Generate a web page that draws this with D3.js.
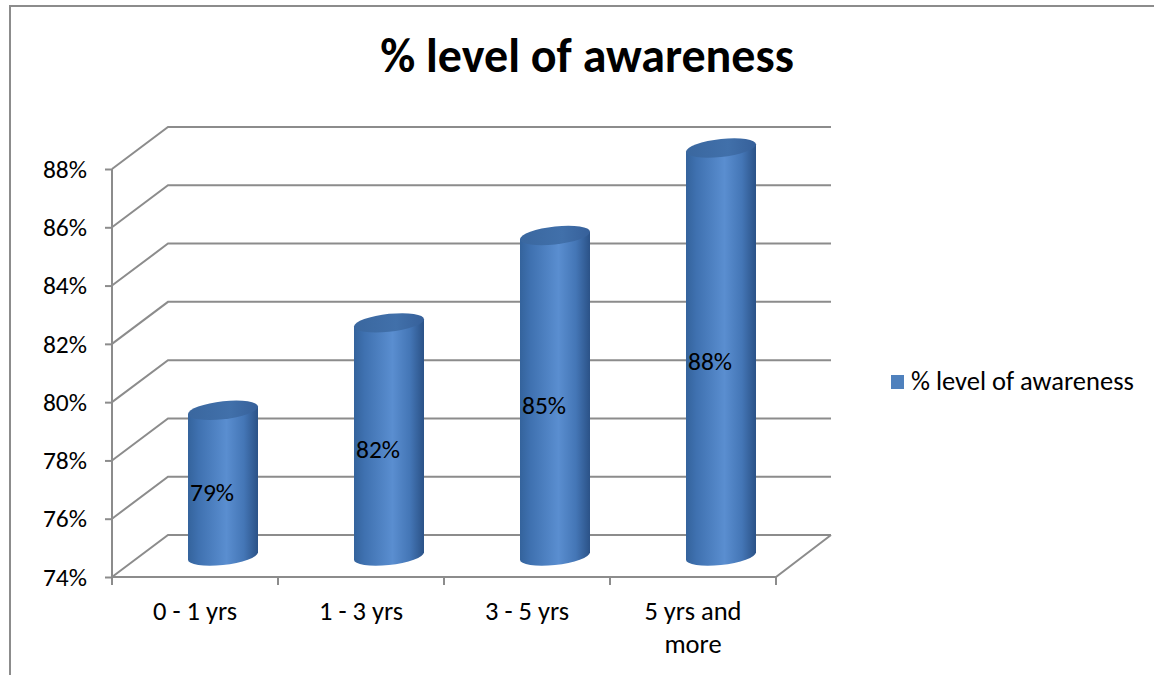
<!DOCTYPE html>
<html>
<head>
<meta charset="utf-8">
<script src="https://cdn.jsdelivr.net/npm/d3@7"></script>
<style>
  html, body { margin: 0; padding: 0; background: #fff; }
  svg { display: block; font-family: Carlito, Calibri, Lato, "Open Sans", sans-serif; }
</style>
</head>
<body>
<svg id="chart" width="1154" height="675"></svg>
<script>
// Chart data
const categories = ["0 - 1 yrs", "1 - 3 yrs", "3 - 5 yrs", "5 yrs and more"];
const categoryLines = [["0 - 1 yrs"], ["1 - 3 yrs"], ["3 - 5 yrs"], ["5 yrs and", "more"]];
const awareness = [0.79, 0.82, 0.85, 0.88];
const valueLabels = ["79%", "82%", "85%", "88%"];
const yTicks = [0.74, 0.76, 0.78, 0.80, 0.82, 0.84, 0.86, 0.88];
const seriesName = "% level of awareness";
const titleText = "% level of awareness";

const svg = d3.select("#chart");
const gridColor = "#8c8c8c";
const labelSize = 25.5;
const textSize = 26.5;

// Frame
svg.append("rect")
  .attr("x", 10).attr("y", 6).attr("width", 1170).attr("height", 700)
  .attr("fill", "#fff").attr("stroke", gridColor).attr("stroke-width", 2);

// Front-plane scales and 3D depth offset
const y = d3.scaleLinear().domain([0.74, 0.88]).range([577, 169]);
const x = d3.scaleBand().domain(categories).range([112, 776]);
const depth = { dx: 56, dy: -42 };

const g = svg.append("g");

// Back-wall gridlines with the diagonal on the side wall
yTicks.forEach(t => {
  const yf = y(t);
  g.append("path")
    .attr("d", `M${x.range()[0]},${yf} L${x.range()[0] + depth.dx},${yf + depth.dy} L${x.range()[1] + depth.dx - 1},${yf + depth.dy}`)
    .attr("fill", "none").attr("stroke", gridColor).attr("stroke-width", 2);
});

// Floor: front edge and right edge
g.append("path")
  .attr("d", `M${x.range()[0]},${y(0.74)} L${x.range()[1]},${y(0.74)} L${x.range()[1] + depth.dx - 1},${y(0.74) + depth.dy}`)
  .attr("fill", "none").attr("stroke", gridColor).attr("stroke-width", 2);

// Vertical axis line
g.append("line")
  .attr("x1", x.range()[0]).attr("x2", x.range()[0])
  .attr("y1", y(0.88)).attr("y2", y(0.74))
  .attr("stroke", gridColor).attr("stroke-width", 2);

// Y axis ticks and labels
const yAxis = d3.axisLeft(y).tickValues(yTicks).tickSize(7).tickPadding(18)
  .tickFormat(d3.format(".0%"));
const yAxisG = svg.append("g").attr("transform", `translate(${x.range()[0]},0)`).call(yAxis);
yAxisG.select(".domain").remove();
yAxisG.selectAll(".tick line").attr("stroke", gridColor).attr("stroke-width", 2);
yAxisG.selectAll(".tick text").attr("font-size", labelSize).attr("fill", "#000")
  .attr("font-family", "Carlito, Calibri, Lato, sans-serif");

// Category tick marks on the floor front edge
const bounds = categories.map(c => x(c)).concat([x.range()[1]]);
svg.selectAll(".ctick").data(bounds).enter().append("line")
  .attr("x1", d => d).attr("x2", d => d)
  .attr("y1", y(0.74)).attr("y2", y(0.74) + 8)
  .attr("stroke", gridColor).attr("stroke-width", 2);

// Category labels
const catG = svg.selectAll(".cat").data(categories).enter().append("text")
  .attr("text-anchor", "middle").attr("font-size", textSize).attr("fill", "#000");
catG.each(function(d, i) {
  const t = d3.select(this);
  categoryLines[i].forEach((line, j) => {
    t.append("tspan")
      .attr("x", x(d) + x.bandwidth() / 2)
      .attr("y", 620 + j * 33)
      .text(line);
  });
});

// Cylinder shading
const defs = svg.append("defs");
const bodyGrad = defs.append("linearGradient").attr("id", "cylBody").attr("x1", 0).attr("x2", 1).attr("y1", 0).attr("y2", 0);
[["0%", "#34639c"], ["15%", "#3f71b0"], ["55%", "#5a8ed0"], ["80%", "#4476b6"], ["100%", "#2b5287"]]
  .forEach(([o, c]) => bodyGrad.append("stop").attr("offset", o).attr("stop-color", c));
const capGrad = defs.append("linearGradient").attr("id", "cylTop").attr("x1", 0).attr("x2", 1).attr("y1", 0).attr("y2", 0);
[["0%", "#3a679f"], ["60%", "#4170aa"], ["100%", "#36609a"]]
  .forEach(([o, c]) => capGrad.append("stop").attr("offset", o).attr("stop-color", c));

const rx = 35, ry = 9;
const baseY = y(0.74) + depth.dy / 2;

const cyl = svg.selectAll(".cyl").data(awareness).enter().append("g")
  .attr("transform", (d, i) => `translate(${x(categories[i]) + x.bandwidth() / 2 + depth.dx / 2},0) skewY(-6)`);

// Body + bottom rim
cyl.append("path")
  .attr("d", d => {
    const yt = y(d) + depth.dy / 2;
    return `M${-rx},${yt} L${-rx},${baseY} A${rx},${ry} 0 0 0 ${rx},${baseY} L${rx},${yt} Z`;
  })
  .attr("fill", "url(#cylBody)");

// Top cap
cyl.append("ellipse")
  .attr("cx", 0).attr("cy", d => y(d) + depth.dy / 2)
  .attr("rx", rx).attr("ry", ry)
  .attr("fill", "url(#cylTop)");

// Value labels, centred on the middle of each cylinder
svg.selectAll(".vlabel").data(awareness).enter().append("text")
  .attr("x", (d, i) => x(categories[i]) + x.bandwidth() / 2 + depth.dx / 2 - 33)
  .attr("y", d => (y(d) + y(0.74)) / 2 - 9)
  .attr("dominant-baseline", "middle")
  .attr("font-size", labelSize).attr("fill", "#000")
  .text((d, i) => valueLabels[i]);

// Title
svg.append("text")
  .attr("x", 587).attr("y", 72)
  .attr("text-anchor", "middle")
  .attr("font-size", 48).attr("font-weight", "bold").attr("fill", "#000")
  .text(titleText);

// Legend
svg.append("rect").attr("x", 891).attr("y", 375).attr("width", 13).attr("height", 14).attr("fill", "#4f81bd");
svg.append("text").attr("x", 911).attr("y", 384)
  .attr("dominant-baseline", "middle")
  .attr("font-size", textSize).attr("fill", "#000")
  .text(seriesName);
</script>
</body>
</html>
